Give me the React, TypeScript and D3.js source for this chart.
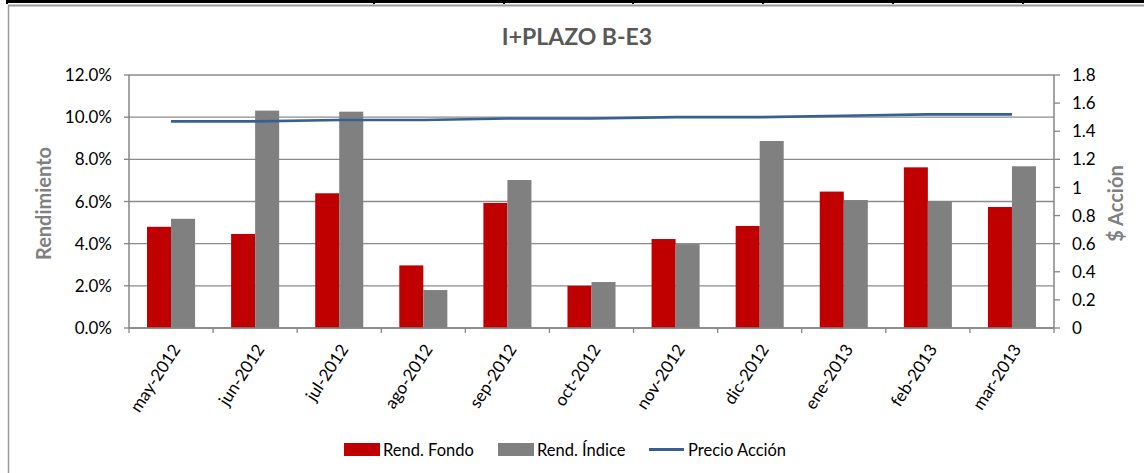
import * as d3 from 'd3'

// Chart data
const months = ['may-2012', 'jun-2012', 'jul-2012', 'ago-2012', 'sep-2012', 'oct-2012',
  'nov-2012', 'dic-2012', 'ene-2013', 'feb-2013', 'mar-2013']
const rendFondo = [4.8, 4.46, 6.39, 2.97, 5.93, 2.0, 4.22, 4.84, 6.47, 7.62, 5.74]
const rendIndice = [5.18, 10.31, 10.26, 1.8, 7.02, 2.18, 3.98, 8.87, 6.07, 6.02, 7.67]
const precioAccion = [1.47, 1.47, 1.48, 1.48, 1.49, 1.49, 1.50, 1.50, 1.51, 1.52, 1.52]
const leftTicks = [0, 2, 4, 6, 8, 10, 12]
const rightTicks = [0, 0.2, 0.4, 0.6, 0.8, 1, 1.2, 1.4, 1.6, 1.8]
const sheetDividers = [7, 374, 504, 633, 763, 893, 1023]

const W = 1144
const H = 473
const FONT = 'Lato, "Open Sans", sans-serif'
const AXIS = '#868686'

export default function App() {
  const plot = { left: 129, right: 1054, top: 75, bottom: 328 }

  const x = d3.scaleBand<string>().domain(months).range([plot.left, plot.right]).paddingInner(0).paddingOuter(0)
  const sub = d3.scaleBand<string>().domain(['fondo', 'indice']).range([0, x.bandwidth()]).paddingInner(0).paddingOuter(0.75)
  const yL = d3.scaleLinear().domain([0, 12]).range([plot.bottom, plot.top])
  const yR = d3.scaleLinear().domain([0, 1.8]).range([plot.bottom, plot.top])

  const line = d3.line<number>()
    .x((_, i) => (x(months[i]) as number) + x.bandwidth() / 2)
    .y(d => yR(d))

  const boundaries = months.map(m => x(m) as number).concat([plot.right])

  return (
    <div style={{ position: 'absolute', left: 0, top: 0 }}>
      <svg width={W} height={H} style={{ display: 'block', background: '#fff' }}>
        {/* spreadsheet cell borders above the chart */}
        <rect x={6} y={0} width={W - 6} height={3} fill="#000" />
        {sheetDividers.map(d => (
          <rect key={d} x={d - 1} y={0} width={2} height={4} fill="#000" />
        ))}
        <line x1={8} x2={W} y1={5.5} y2={5.5} stroke="#9a9a9a" strokeWidth={2} />
        <line x1={8.5} x2={8.5} y1={5} y2={H} stroke="#9a9a9a" strokeWidth={1.5} />

        {/* title */}
        <text x={577} y={45} textAnchor="middle" fontFamily={FONT} fontWeight="bold"
          fontSize={23} fill="#595959">I+PLAZO B-E3</text>

        {/* gridlines */}
        {leftTicks.map(t => (
          <line key={t} x1={plot.left} x2={plot.right} y1={yL(t)} y2={yL(t)}
            stroke="#8c8c8c" strokeWidth={1.3} />
        ))}

        {/* bars */}
        {months.map((m, i) => (
          <g key={m} transform={`translate(${x(m)},0)`}>
            <rect x={sub('fondo')} y={yL(rendFondo[i])} width={sub.bandwidth()}
              height={plot.bottom - yL(rendFondo[i])} fill="#C00000" />
            <rect x={sub('indice')} y={yL(rendIndice[i])} width={sub.bandwidth()}
              height={plot.bottom - yL(rendIndice[i])} fill="#808080" />
          </g>
        ))}

        {/* price line */}
        <path d={line(precioAccion) as string} fill="none" stroke="#376092" strokeWidth={2.6} />

        {/* axes */}
        <line x1={plot.left} x2={plot.left} y1={plot.top} y2={plot.bottom} stroke={AXIS} strokeWidth={1.5} />
        <line x1={plot.right} x2={plot.right} y1={plot.top} y2={plot.bottom} stroke={AXIS} strokeWidth={1.5} />
        <line x1={plot.left} x2={plot.right} y1={plot.bottom} y2={plot.bottom} stroke={AXIS} strokeWidth={1.5} />

        {leftTicks.map(t => (
          <g key={t}>
            <line x1={plot.left - 5} x2={plot.left} y1={yL(t)} y2={yL(t)} stroke={AXIS} strokeWidth={1.3} />
            <text x={112} y={yL(t)} dy="0.36em" textAnchor="end" fontFamily={FONT} fontSize={17} fill="#000">
              {t.toFixed(1)}%
            </text>
          </g>
        ))}
        {rightTicks.map(t => (
          <g key={t}>
            <line x1={plot.right} x2={plot.right + 6} y1={yR(t)} y2={yR(t)} stroke={AXIS} strokeWidth={1.3} />
            <text x={1072} y={yR(t)} dy="0.36em" textAnchor="start" fontFamily={FONT} fontSize={17} fill="#000">
              {String(+t.toFixed(1))}
            </text>
          </g>
        ))}
        {boundaries.map(b => (
          <line key={b} x1={b} x2={b} y1={plot.bottom} y2={plot.bottom + 5} stroke={AXIS} strokeWidth={1.3} />
        ))}

        {/* category labels */}
        {months.map(m => {
          const cx = (x(m) as number) + x.bandwidth() / 2 + 5
          return (
            <text key={m} transform={`translate(${cx},${plot.bottom + 18}) rotate(-57)`}
              textAnchor="end" dy="0.35em" fontFamily={FONT} fontSize={17} fill="#000">{m}</text>
          )
        })}

        {/* axis titles */}
        <text transform={`translate(51,${(plot.top + plot.bottom) / 2 + 2}) rotate(-90)`} textAnchor="middle"
          fontFamily={FONT} fontWeight="bold" fontSize={20} fill="#808080">Rendimiento</text>
        <text transform={`translate(1123,${(plot.top + plot.bottom) / 2 + 2}) rotate(-90)`} textAnchor="middle"
          fontFamily={FONT} fontWeight="bold" fontSize={20} fill="#808080">$ Acción</text>

        {/* legend */}
        <rect x={344} y={443} width={36} height={13} fill="#C00000" />
        <text x={383} y={450} dy="0.35em" fontFamily={FONT} fontSize={16.5} fill="#000">Rend. Fondo</text>
        <rect x={498} y={443} width={36} height={13} fill="#808080" />
        <text x={537} y={450} dy="0.35em" fontFamily={FONT} fontSize={16.5} fill="#000">Rend. Índice</text>
        <line x1={649} x2={684} y1={449.5} y2={449.5} stroke="#376092" strokeWidth={3} />
        <text x={688} y={450} dy="0.35em" fontFamily={FONT} fontSize={16.5} fill="#000">Precio Acción</text>
      </svg>
    </div>
  )
}
